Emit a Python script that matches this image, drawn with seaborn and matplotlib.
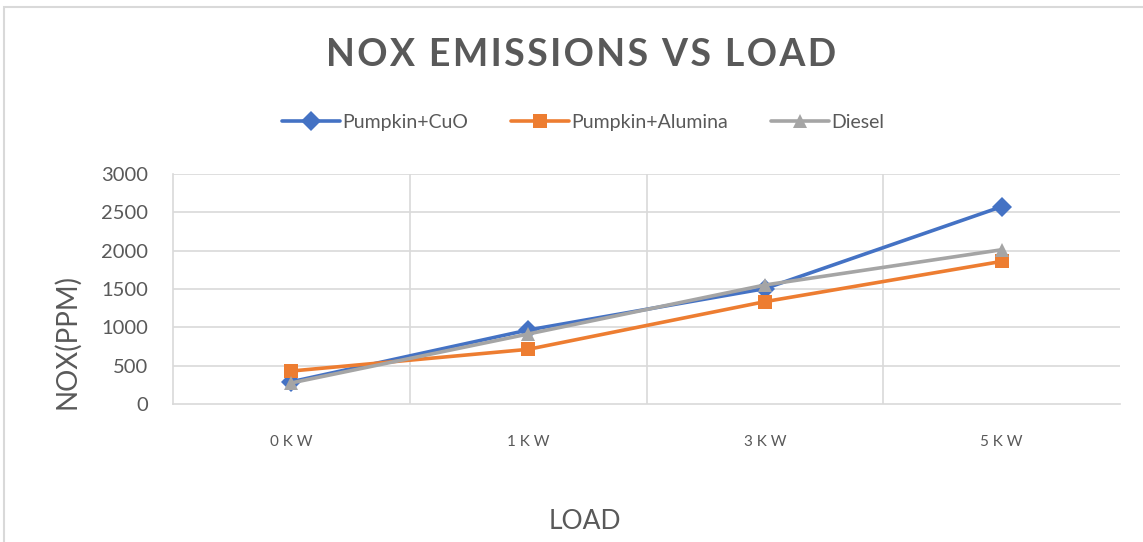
import pandas as pd
import seaborn as sns
import matplotlib.pyplot as plt
from matplotlib.patches import Rectangle

# Data
loads = ["0KW", "1KW", "3KW", "5KW"]
cuo = [290, 965, 1505, 2574]
alumina = [430, 713, 1335, 1860]
diesel = [275, 913, 1552, 2012]

series = ["Pumpkin+CuO", "Pumpkin+Alumina", "Diesel"]
colors = ["#4472C4", "#ED7D31", "#A5A5A5"]
markers = ["D", "s", "^"]

df = pd.DataFrame({
    "Load": loads * 3,
    "NOx": cuo + alumina + diesel,
    "Fuel": [series[0]] * 4 + [series[1]] * 4 + [series[2]] * 4,
})

sns.set_theme(style="white")
plt.rcParams["font.family"] = ["Lato", "DejaVu Sans"]

fig = plt.figure(figsize=(11.43, 5.42), dpi=100)
ax = fig.add_axes([173 / 1143, 1 - 404 / 542, (1120 - 173) / 1143, (404 - 174) / 542])

sns.lineplot(data=df, x="Load", y="NOx", hue="Fuel", style="Fuel",
             palette=dict(zip(series, colors)), markers=dict(zip(series, markers)),
             dashes=False, linewidth=2.6, markersize=10, markeredgewidth=0,
             sort=False, ax=ax, legend=False, zorder=3)

ax.set_xlim(-0.5, 3.5)
ax.set_ylim(0, 3000)
ax.set_yticks(range(0, 3001, 500))
ax.set_xticks(range(4))
ax.set_xticklabels([" ".join(l) for l in loads], fontsize=11, color="#595959")
ax.tick_params(axis="x", length=0, pad=22)
ax.tick_params(axis="y", length=0, pad=18, labelsize=14.5, labelcolor="#595959")
for y in range(500, 3001, 500):
    ax.axhline(y, color="#D9D9D9", lw=1.2, zorder=0)
for x in [0.5, 1.5, 2.5]:
    ax.axvline(x, color="#D9D9D9", lw=1.2, zorder=0)
for s in ["top", "right"]:
    ax.spines[s].set_visible(False)
for s in ["left", "bottom"]:
    ax.spines[s].set_color("#D9D9D9")
    ax.spines[s].set_linewidth(1.2)

ax.set_xlabel("LOAD", fontsize=19, color="#595959", va="center")
ax.xaxis.set_label_coords(0.435, -0.513)
ax.set_ylabel("NOX(PPM)", fontsize=20, color="#595959")
ax.yaxis.set_label_coords(-0.098, 0.27)

title = "NOX EMISSIONS VS LOAD"
fig.text(0.508, 1 - 55 / 542, "\u200a".join(title),
         ha="center", va="center", fontsize=27, fontweight="bold", color="#595959")

handles = [plt.Line2D([], [], color=c, marker=m, lw=2.6, markersize=10, markeredgewidth=0)
           for c, m in zip(colors, markers)]
fig.legend(handles, series, loc="center", bbox_to_anchor=(0.51, 1 - 122 / 542), ncol=3,
           frameon=False, fontsize=14, labelcolor="#595959", handlelength=3,
           handletextpad=0.1, columnspacing=2.2)

fig.patches.append(Rectangle((4 / 1143, -0.1), 1.2, 1.1 - 7 / 542, transform=fig.transFigure,
                             fill=False, edgecolor="#D9D9D9", lw=1.5))

fig.savefig("out.png", dpi=100)
